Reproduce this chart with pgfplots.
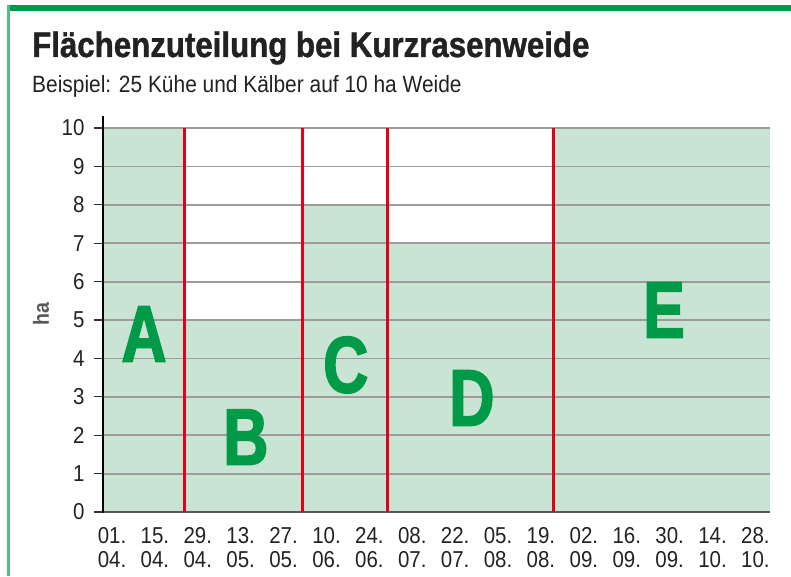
\documentclass[border=0pt]{standalone}
\usepackage{fontspec}
\setmainfont{Liberation Sans}[FakeStretch=0.89]
\newfontfamily\titlefont{Liberation Sans}[FakeStretch=0.88, FakeBold=1.2]
\newfontfamily\letterfont{Liberation Sans}[FakeStretch=0.78, FakeBold=2]
\usepackage{pgfplots}
\pgfplotsset{compat=1.18}
\definecolor{fillgreen}{HTML}{CAE4D3}
\definecolor{letgreen}{HTML}{009A49}
\definecolor{redline}{HTML}{E2001A}
\definecolor{framegreen}{HTML}{009A49}
\definecolor{framelight}{HTML}{55BC84}
\definecolor{txt}{HTML}{222222}
\definecolor{gridgray}{HTML}{9C9C9C}
\pgfplotsset{geom/.style={at={(103pt,64pt)}, anchor=south west,
  scale only axis, width=667pt, height=395.5pt,
  xmin=-0.21, xmax=15.34, ymin=0, ymax=10.3}}
\begin{document}
\begin{tikzpicture}
\useasboundingbox (0pt,0pt) rectangle (791pt,576pt);
\fill[framegreen] (8pt,565pt) rectangle (791pt,571pt);
\fill[framelight] (7pt,0pt) rectangle (9.5pt,571pt);
\node[anchor=base west, inner sep=0, text=txt] at (32pt,519pt) {\titlefont\bfseries\fontsize{35.5}{40}\selectfont Flächenzuteilung bei Kurzrasenweide};
\node[anchor=base west, inner sep=0, text=txt] at (32pt,483pt) {\fontsize{23.5}{26}\selectfont Beispiel: 25 Kühe und Kälber auf 10 ha Weide};
\begin{axis}[geom, hide axis]
\addplot[fill=fillgreen, draw=none, const plot] coordinates {(-0.21,10) (1.70,5) (4.43,8) (6.43,7) (10.30,10) (15.34,10)} \closedcycle;
\end{axis}
\begin{axis}[
  geom,
  axis x line=bottom, axis y line=left,
  axis line style={-},
  x axis line style={draw=black!65, line width=1.4pt},
  y axis line style={draw=black, line width=1.3pt},
  tick align=outside,
  major tick length=9pt,
  ytick={0,1,...,10},
  ytick style={draw=black!80, line width=1.1pt},
  ymajorgrids,
  grid style={draw=gridgray, line width=1.8pt},
  xtick={0,1,...,15},
  xticklabels={{01.\\04.},{15.\\04.},{29.\\04.},{13.\\05.},{27.\\05.},{10.\\06.},{24.\\06.},{08.\\07.},{22.\\07.},{05.\\08.},{19.\\08.},{02.\\09.},{16.\\09.},{30.\\09.},{14.\\10.},{28.\\10.}},
  xtick style={draw=none},
  xticklabel style={align=center, font=\fontsize{23}{24}\selectfont, text=txt, yshift=-3pt},
  yticklabel style={font=\fontsize{23}{24}\selectfont, text=txt, xshift=-6pt},
  /pgf/number format/assume math mode=true,
  ylabel={\bfseries ha},
  ylabel style={at={(axis description cs:-0.093,0.5)}, anchor=center, font=\fontsize{22}{24}\selectfont, text=black!65},
]
\addplot[redline, line width=3pt] coordinates {(1.70,0) (1.70,10)};
\addplot[redline, line width=3pt] coordinates {(4.43,0) (4.43,10)};
\addplot[redline, line width=3pt] coordinates {(6.43,0) (6.43,10)};
\addplot[redline, line width=3pt] coordinates {(10.30,0) (10.30,10)};
\addplot[black, line width=1.3pt] coordinates {(-0.21,0) (-0.21,-0.16)};
\node[text=letgreen, inner sep=0, font=\letterfont\bfseries\fontsize{80}{80}\selectfont] at (axis cs:0.746,4.635) {A};
\node[text=letgreen, inner sep=0, font=\letterfont\bfseries\fontsize{80}{80}\selectfont] at (axis cs:3.12,1.95) {B};
\node[text=letgreen, inner sep=0, font=\letterfont\bfseries\fontsize{80}{80}\selectfont] at (axis cs:5.45,3.83) {C};
\node[text=letgreen, inner sep=0, font=\letterfont\bfseries\fontsize{80}{80}\selectfont] at (axis cs:8.39,2.97) {D};
\node[text=letgreen, inner sep=0, font=\letterfont\bfseries\fontsize{80}{80}\selectfont] at (axis cs:12.87,5.26) {E};
\end{axis}
\end{tikzpicture}
\end{document}
